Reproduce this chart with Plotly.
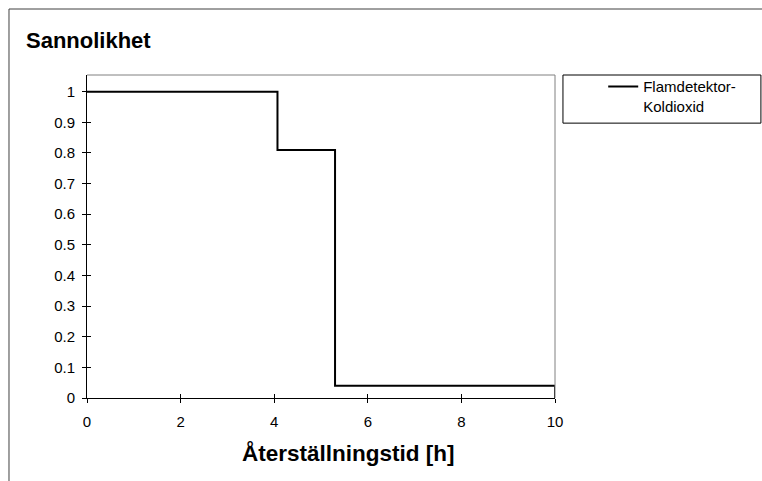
import plotly.graph_objects as go

# Step data: probability vs restoration time
step_x = [0, 4.07, 5.3, 10]
step_y = [1, 0.81, 0.04, 0]
series_name = "Flamdetektor-<br>Koldioxid"

x_ticks = [0, 2, 4, 6, 8, 10]
y_ticks = [0, 0.1, 0.2, 0.3, 0.4, 0.5, 0.6, 0.7, 0.8, 0.9, 1]
y_tick_text = ["0", "0.1", "0.2", "0.3", "0.4", "0.5", "0.6", "0.7", "0.8", "0.9", "1"]

FONT = "Arial, Liberation Sans, sans-serif"

fig = go.Figure()
fig.add_trace(go.Scatter(
    x=step_x, y=step_y, mode="lines", line_shape="hv",
    line=dict(color="black", width=2), name=series_name,
))
# dummy trace to activate overlay axes (for crossing tick marks)
fig.add_trace(go.Scatter(x=[], y=[], xaxis="x2", yaxis="y2", showlegend=False, hoverinfo="skip"))

axis_common = dict(showgrid=False, zeroline=False)
fig.update_layout(
    width=762, height=481,
    margin=dict(l=87, r=207, t=75, b=83),
    paper_bgcolor="white", plot_bgcolor="white",
    font=dict(family=FONT, size=15, color="black"),
    xaxis=dict(range=[0, 10], tickvals=x_ticks, ticks="outside", ticklen=4, tickwidth=1,
               tickcolor="black", showline=True, linecolor="black", linewidth=1,
               tickfont=dict(size=15), ticklabelstandoff=6, **axis_common),
    yaxis=dict(range=[0, 1.0545], tickvals=y_ticks, ticktext=y_tick_text, ticks="outside",
               ticklen=4, tickwidth=1, tickcolor="black", showline=True, linecolor="black",
               linewidth=1, tickfont=dict(size=15), ticklabelstandoff=4, **axis_common),
    xaxis2=dict(overlaying="x", matches="x", anchor="y2", tickvals=x_ticks, ticks="inside",
                ticklen=4, tickcolor="black", showticklabels=False, showline=False, **axis_common),
    yaxis2=dict(overlaying="y", matches="y", anchor="x2", tickvals=y_ticks, ticks="inside",
                ticklen=4, tickcolor="black", showticklabels=False, showline=False, **axis_common),
    showlegend=True,
    legend=dict(x=1.103, y=1.015, xanchor="left", yanchor="top", bgcolor="rgba(0,0,0,0)",
                borderwidth=0, font=dict(size=15), valign="top"),
)

shapes = [
    # plot-area top and right border (gray)
    dict(type="line", xref="paper", yref="paper", x0=0, x1=1, y0=1, y1=1,
         line=dict(color="#808080", width=1)),
    dict(type="line", xref="paper", yref="paper", x0=1, x1=1, y0=0, y1=1,
         line=dict(color="#808080", width=1)),
    # outer chart frame (left and top)
    dict(type="line", xref="paper", yref="paper", x0=-0.1667, x1=-0.1667, y0=-0.26, y1=1.2043,
         line=dict(color="#404040", width=1)),
    dict(type="line", xref="paper", yref="paper", x0=-0.1667, x1=1.45, y0=1.2043, y1=1.2043,
         line=dict(color="#404040", width=1)),
    # legend box
    dict(type="rect", xref="paper", yref="paper", x0=1.017, x1=1.440, y0=0.851, y1=1.0,
         line=dict(color="black", width=1)),
]
fig.update_layout(shapes=shapes)

fig.add_annotation(text="<b>Sannolikhet</b>", xref="paper", yref="paper", x=-0.1346, y=1.108,
                   xanchor="left", yanchor="middle", showarrow=False, font=dict(size=22))
fig.add_annotation(text="<b>Återställningstid [h]</b>", xref="paper", yref="paper", x=0.5598, y=-0.170,
                   xanchor="center", yanchor="middle", showarrow=False, font=dict(size=22.5))

fig.write_html("out.html")
